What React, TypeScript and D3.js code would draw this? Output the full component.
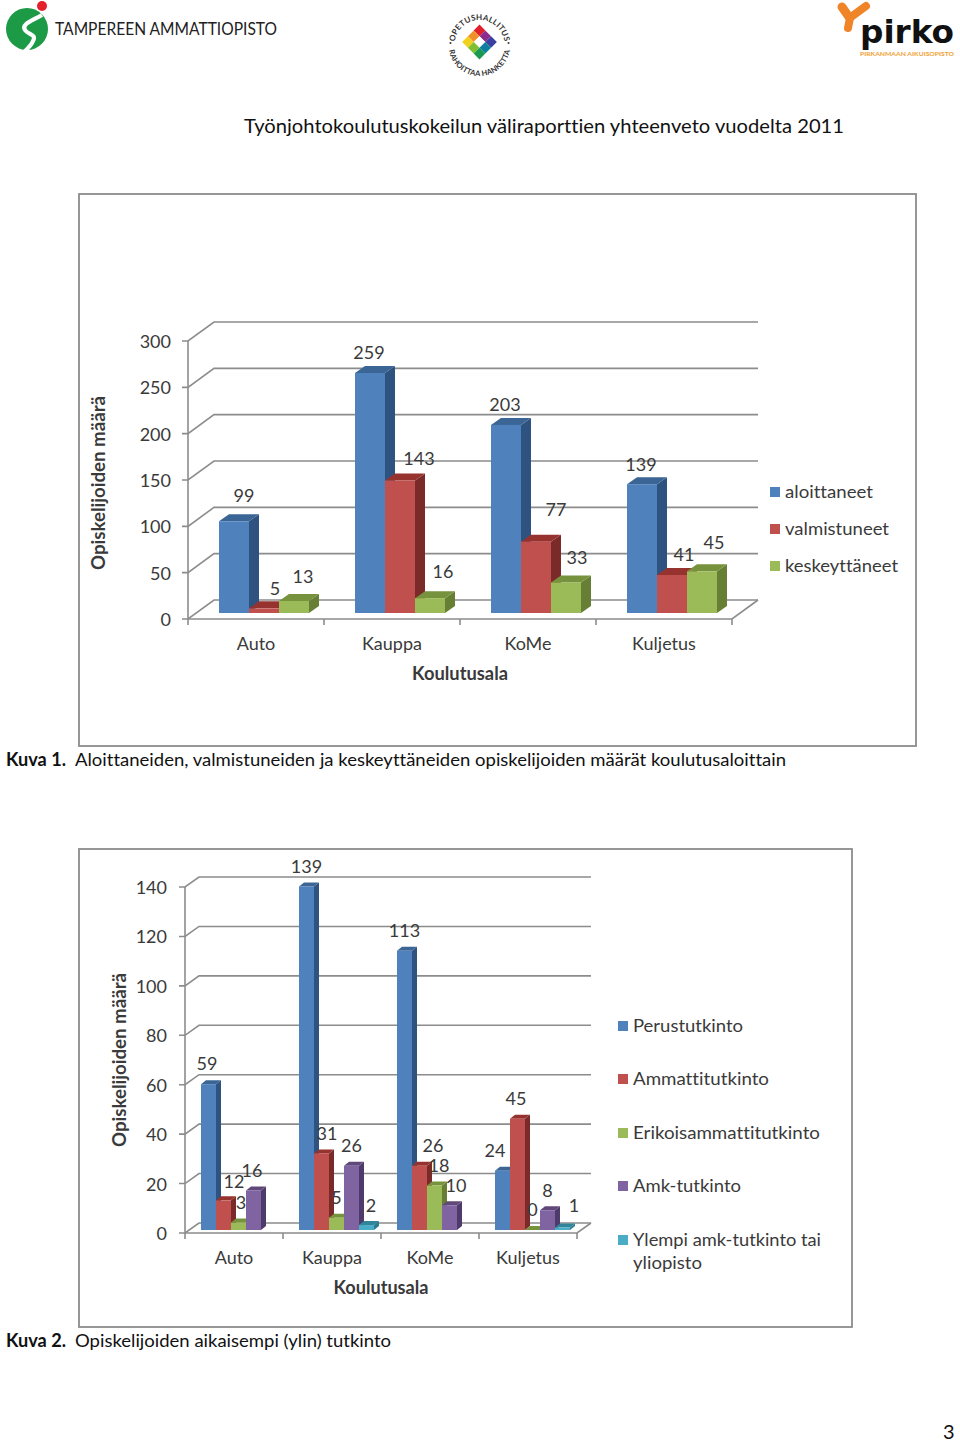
import React from "react";
import * as d3 from "d3";

// ---------- data ----------
const categories = ["Auto", "Kauppa", "KoMe", "Kuljetus"];

const seriesNames1 = ["aloittaneet", "valmistuneet", "keskeyttäneet"];
const aloittaneet = [99, 259, 203, 139];
const valmistuneet = [5, 143, 77, 41];
const keskeyttaneet = [13, 16, 33, 45];
const ticks1 = [0, 50, 100, 150, 200, 250, 300];

const seriesNames2 = ["Perustutkinto", "Ammattitutkinto", "Erikoisammattitutkinto", "Amk-tutkinto", "Ylempi amk-tutkinto tai yliopisto"];
const perustutkinto = [59, 139, 113, 24];
const ammattitutkinto = [12, 31, 26, 45];
const erikoisammattitutkinto = [3, 5, 18, 0];
const amkTutkinto = [16, 26, 10, 8];
const ylempi = [null, 2, null, 1];
const ticks2 = [0, 20, 40, 60, 80, 100, 120, 140];

// ---------- styling / placement (not data) ----------
const FONT = "Lato, Carlito, sans-serif";
const INK = "#3a3a3a";
const AXIS = "#8c8c8c";
const palette = [
  { front: "#4f81bd", side: "#2f5380", top: "#3a6595" },
  { front: "#c0504d", side: "#7a2b29", top: "#97332f" },
  { front: "#9bbb59", side: "#677f35", top: "#76923c" },
  { front: "#8064a2", side: "#4e3a6b", top: "#60497a" },
  { front: "#4bacc6", side: "#2a7b90", top: "#31859b" },
];
// hand-placed data label offsets (dx from bar centre, dy from bar top), one row per series
const labelOffsets1 = [
  [[10, -25], [-1, -20], [-1, -20], [-1, -19]],
  [[11, -19], [19, -21.5], [20, -31.6], [12, -20]],
  [[9, -24], [13, -26], [11, -24.4], [12, -28]],
];
const labelOffsets2 = [
  [[-1.5, -20], [0, -19.5], [0, -20], [-7.5, -19.7]],
  [[10.5, -18], [5.5, -19.4], [13.5, -20], [-1.5, -20]],
  [[2.5, -19.6], [0, -19.6], [4.5, -19.5], [0, -20]],
  [[-1.5, -19.5], [0, -19.8], [6.5, -19.3], [0, -19]],
  [[0, 0], [4.5, -19], [0, 0], [11.5, -21.5]],
];

type T = { x: number; y: number; s: string; size?: number; w?: number; anchor?: string; bold?: boolean; fill?: string; rotate?: boolean };
function Txt({ x, y, s, size = 18, w, anchor = "start", bold, fill = INK, rotate }: T) {
  return (
    <text
      x={rotate ? 0 : x}
      y={rotate ? 0 : y - 1}
      transform={rotate ? `translate(${x},${y}) rotate(-90)` : undefined}
      fontFamily={FONT}
      fontSize={size}
      fontWeight={bold ? 700 : 400}
      fill={fill}
      textAnchor={anchor}
      dominantBaseline="central"
      textLength={w}
      lengthAdjust={w ? "spacingAndGlyphs" : undefined}
      style={{ fontVariantLigatures: "none" }}
    >
      {s}
    </text>
  );
}

type ChartCfg = {
  series: (number | null)[][];
  offsets: number[][][];
  ticks: number[];
  frame: [number, number, number, number];
  xRange: [number, number];
  yRange: [number, number];
  yMax: number;
  wall: [number, number];
  barDepth: [number, number];
  baseLift: number;
  group: [number, number];
  tickLabelX: number;
  catY: number;
  titleX: [number, number, number];
  yTitle: [number, number, number];
  legend: { x: number; rows: { s: string; y: number; w: number; extra?: { s: string; y: number; w: number } }[] };
  fontSize: number;
};

function Chart3D(c: ChartCfg) {
  const x = d3.scaleBand<string>().domain(categories).range(c.xRange);
  const y = d3.scaleLinear().domain([0, c.yMax]).range(c.yRange);
  const inner = d3.scaleBand<number>().domain(d3.range(c.series.length)).range(c.group);
  const [wx, wy] = c.wall;
  const [bx, by] = c.barDepth;
  const [x0, x1] = c.xRange;
  const bw = inner.bandwidth();
  const pts = (p: number[][]) => p.map((q) => q.join(",")).join(" ");
  return (
    <g>
      <rect x={c.frame[0]} y={c.frame[1]} width={c.frame[2]} height={c.frame[3]} fill="#fff" stroke={AXIS} strokeWidth={1.8} />
      {/* walls and gridlines */}
      <g stroke={AXIS} strokeWidth={1.6} fill="none">
        {c.ticks.map((t) => (
          <polyline key={t} points={pts([[x0 - 6, y(t)], [x0, y(t)], [x0 + wx, y(t) + wy], [x1 + wx, y(t) + wy]])} />
        ))}
        <line x1={x0} x2={x0} y1={y(c.yMax)} y2={y(0) + 6} />
        <polyline points={pts([[x0, y(0)], [x1, y(0)], [x1 + wx, y(0) + wy]])} />
        {categories.map((k) => (
          <line key={k} x1={(x(k) as number) + x.bandwidth()} x2={(x(k) as number) + x.bandwidth()} y1={y(0)} y2={y(0) + 6} />
        ))}
      </g>
      {/* bars */}
      {categories.map((k, ci) => (
        <g key={k}>
          {c.series.map((vals, si) => {
            const v = vals[ci];
            if (v === null) return null;
            const l = (x(k) as number) + (inner(si) as number);
            const r = l + bw;
            const b = y(0) - c.baseLift;
            const t = y(v) - c.baseLift;
            const col = palette[si];
            return (
              <g key={si}>
                <polygon fill={col.side} points={pts([[r, b], [r + bx, b + by], [r + bx, t + by], [r, t]])} />
                <polygon fill={col.top} points={pts([[l, t], [l + bx, t + by], [r + bx, t + by], [r, t]])} />
                <rect x={l} y={t} width={bw} height={b - t} fill={col.front} />
              </g>
            );
          })}
        </g>
      ))}
      {/* data labels */}
      {categories.map((k, ci) =>
        c.series.map((vals, si) => {
          const v = vals[ci];
          if (v === null) return null;
          const cx = (x(k) as number) + (inner(si) as number) + bw / 2;
          const t = y(v) - c.baseLift;
          const [dx, dy] = c.offsets[si][ci];
          return <Txt key={k + si} x={cx + dx} y={t + dy} s={String(v)} anchor="middle" size={c.fontSize} />;
        })
      )}
      {/* axis text */}
      {c.ticks.map((t) => (
        <Txt key={t} x={c.tickLabelX} y={y(t) + 1} s={String(t)} anchor="end" size={c.fontSize} />
      ))}
      {categories.map((k) => (
        <Txt key={k} x={(x(k) as number) + x.bandwidth() / 2} y={c.catY} s={k} anchor="middle" size={c.fontSize} />
      ))}
      <Txt x={c.titleX[0]} y={c.titleX[1]} s="Koulutusala" anchor="middle" bold w={c.titleX[2]} size={c.fontSize} />
      <Txt x={c.yTitle[0]} y={c.yTitle[1]} s="Opiskelijoiden määrä" anchor="middle" bold rotate w={c.yTitle[2]} size={c.fontSize} />
      {/* legend */}
      {c.legend.rows.map((row, i) => (
        <g key={row.s}>
          <rect x={c.legend.x} y={row.y - 5} width={10} height={10} fill={palette[i].front} />
          <Txt x={c.legend.x + 15} y={row.y} s={row.s} w={row.w} size={c.fontSize} />
          {row.extra && <Txt x={c.legend.x + 15} y={row.extra.y} s={row.extra.s} w={row.extra.w} size={c.fontSize} />}
        </g>
      ))}
    </g>
  );
}

function LeftLogo() {
  return (
    <g>
      <circle cx={27} cy={29} r={21} fill="#1c9a46" />
      <path d="M42,15 C32,21 21,24 25,30 C28,35 37,34 33,41 C31,46 27,49 23,53" fill="none" stroke="#fff" strokeWidth={4.2} />
      <circle cx={42} cy={6} r={5} fill="#e3202c" />
      <Txt x={55} y={29} s="TAMPEREEN AMMATTIOPISTO" size={18} w={222} fill="#222" />
    </g>
  );
}

const diamondColors = ["#e0202a", "#8e2a8e", "#3b3f9f", "#f0902a", "#ffffff", "#0f7f9f", "#f2d020", "#7fbf30", "#1a9a50"];
function CenterLogo() {
  const cx = 479.5, cy = 42, s = 8.2;
  return (
    <g>
      <defs>
        <path id="arcTop" d={`M${cx - 25},${cy + 3} A25,25 0 0 1 ${cx + 25},${cy + 3}`} />
        <path id="arcBot" d={`M${cx - 31},${cy + 3} A31,31 0 0 0 ${cx + 31},${cy + 3}`} />
      </defs>
      <g transform={`translate(${cx},${cy}) rotate(45)`}>
        {diamondColors.map((col, i) => (
          <rect key={i} x={(i % 3) * s - 1.5 * s} y={Math.floor(i / 3) * s - 1.5 * s} width={s} height={s} fill={col} />
        ))}
      </g>
      <circle cx={cx - 29} cy={cy + 1} r={1} fill="#333" />
      <circle cx={cx + 29} cy={cy + 1} r={1} fill="#333" />
      <text fontFamily={FONT} fontSize={8} fontWeight={700} fill="#333" letterSpacing={0.2}>
        <textPath href="#arcTop" startOffset="50%" textAnchor="middle">OPETUSHALLITUS</textPath>
      </text>
      <text fontFamily={FONT} fontSize={7.5} fontWeight={700} fill="#333" letterSpacing={0.1}>
        <textPath href="#arcBot" startOffset="50%" textAnchor="middle">RAHOITTAA HANKETTA</textPath>
      </text>
    </g>
  );
}

function RightLogo() {
  return (
    <g>
      <g fill="none" stroke="#f08428" strokeLinecap="round">
        <line x1={849} y1={17} x2={842} y2={7} strokeWidth={9} />
        <line x1={851} y1={17} x2={866} y2={6} strokeWidth={8} />
        <line x1={850} y1={18} x2={848} y2={28} strokeWidth={8} />
      </g>
      <text x={860} y={43} fontFamily="'DejaVu Sans', sans-serif" fontSize={32} fontWeight={700} fill="#111" textLength={94} lengthAdjust="spacingAndGlyphs">pirko</text>
      <Txt x={860} y={54.5} s="PIRKANMAAN AIKUISOPISTO" size={6} w={94} bold fill="#f0a030" />
    </g>
  );
}

export default function App() {
  const legend1 = {
    x: 770,
    rows: [
      { s: seriesNames1[0], y: 492, w: 88 },
      { s: seriesNames1[1], y: 529, w: 104 },
      { s: seriesNames1[2], y: 566, w: 113 },
    ],
  };
  const legend2 = {
    x: 618,
    rows: [
      { s: seriesNames2[0], y: 1026, w: 110 },
      { s: seriesNames2[1], y: 1079, w: 136 },
      { s: seriesNames2[2], y: 1133, w: 187 },
      { s: seriesNames2[3], y: 1186, w: 108 },
      { s: "Ylempi amk-tutkinto tai", y: 1240, w: 188, extra: { s: "yliopisto", y: 1263, w: 69 } },
    ],
  };
  return (
    <svg width={960} height={1443} style={{ position: "absolute", left: 0, top: 0, background: "#fff" }}>
      <LeftLogo />
      <CenterLogo />
      <RightLogo />
      <Txt x={244} y={126} s="Työnjohtokoulutuskokeilun väliraporttien yhteenveto vuodelta 2011" size={20} w={600} fill="#111" />
      <Chart3D
        series={[aloittaneet, valmistuneet, keskeyttaneet]}
        offsets={labelOffsets1}
        ticks={ticks1}
        frame={[79, 194, 837, 552]}
        xRange={[188, 732]}
        yRange={[619, 341]}
        yMax={300}
        wall={[26, -19]}
        barDepth={[10, -7]}
        baseLift={6}
        group={[31, 121]}
        tickLabelX={171}
        catY={644}
        titleX={[460, 674, 96]}
        yTitle={[98, 483, 174]}
        legend={legend1}
        fontSize={18}
      />
      <Txt x={6} y={760} s="Kuva 1." bold size={18} w={60} fill="#111" />
      <Txt x={75} y={760} s="Aloittaneiden, valmistuneiden ja keskeyttäneiden opiskelijoiden määrät koulutusaloittain" size={18} w={711} fill="#111" />
      <Chart3D
        series={[perustutkinto, ammattitutkinto, erikoisammattitutkinto, amkTutkinto, ylempi]}
        offsets={labelOffsets2}
        ticks={ticks2}
        frame={[79, 849, 773, 478]}
        xRange={[185, 577]}
        yRange={[1233, 887]}
        yMax={140}
        wall={[14, -10]}
        barDepth={[5, -4]}
        baseLift={3}
        group={[16, 91]}
        tickLabelX={167}
        catY={1258}
        titleX={[381, 1288, 95]}
        yTitle={[119, 1060, 174]}
        legend={legend2}
        fontSize={18}
      />
      <Txt x={6} y={1341} s="Kuva 2." bold size={18} w={60} fill="#111" />
      <Txt x={75} y={1341} s="Opiskelijoiden aikaisempi (ylin) tutkinto" size={18} w={316} fill="#111" />
      <Txt x={943} y={1432} s="3" size={20} fill="#111" />
    </svg>
  );
}
